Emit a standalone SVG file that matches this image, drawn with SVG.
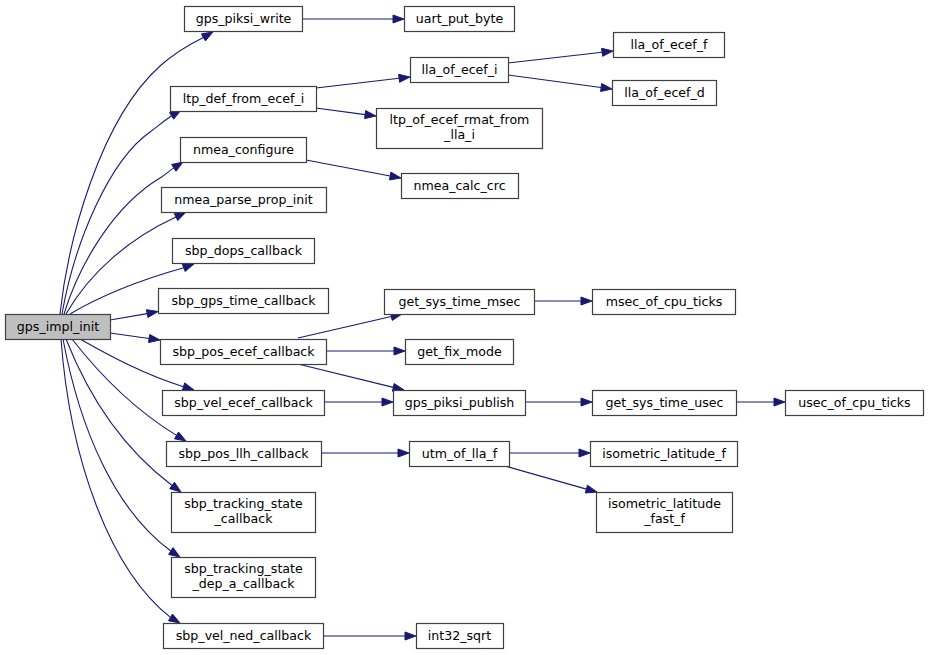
<svg xmlns="http://www.w3.org/2000/svg" width="928" height="655" viewBox="0 0 928 655">
<style>
  .n rect { fill: #ffffff; stroke: #404040; stroke-width: 1.2; }
  .n.root rect { fill: #bfbfbf; }
  .n text { font-family: "DejaVu Sans", "Liberation Sans", sans-serif; font-size: 12.6px; fill: #000000; text-anchor: middle; }
  .e path { fill: none; stroke: #191970; stroke-width: 1.1; }
  .e polygon { fill: #191970; stroke: #191970; stroke-width: 1; }
</style>
<rect x="0" y="0" width="928" height="655" fill="#ffffff"/>

<!-- call edges -->
<g id="edges" class="e">
  <!-- gps_impl_init fan-out -->
  <path d="M60,314 C68,240 100,120 160,66 C172,55 188,45 203.4,37.4"/>
  <polygon points="213,32 205.4,40.9 201.4,33.9"/>
  <path d="M62,314 C75,240 110,160 150,132 C158,126 164,121 171.6,115.8"/>
  <polygon points="181,110 173.7,119.2 169.5,112.4"/>
  <path d="M64,314 C80,262 115,205 160,178 C165,175 169,171 173.8,167.9"/>
  <polygon points="183,162 176,171.3 171.6,164.5"/>
  <path d="M66,314 C90,272 130,238 176,217"/>
  <polygon points="186,212 177.8,220.6 174.2,213.4"/>
  <path d="M70,314 C100,296 140,280 183.7,267.7"/>
  <polygon points="194,264 185.1,271.5 182.3,263.9"/>
  <path d="M110,320 L147.2,313.6"/>
  <polygon points="158,311.5 148,317.5 146.4,309.7"/>
  <path d="M110,333 L149.1,338.5"/>
  <polygon points="160,340 148.5,342.5 149.7,334.5"/>
  <path d="M80,339 C110,356 145,375 183.5,386.7"/>
  <polygon points="194,390 182.3,390.5 184.7,382.9"/>
  <path d="M72,339 C100,375 135,410 176.5,435.4"/>
  <polygon points="186,441 174.5,438.8 178.5,432"/>
  <path d="M66,339 C90,400 125,450 172.1,485.5"/>
  <polygon points="181,492 169.7,488.7 174.5,482.3"/>
  <path d="M63,339 C80,430 115,510 170.8,551"/>
  <polygon points="180,557 168.6,554.4 173,547.6"/>
  <path d="M61,339 C70,460 110,570 170.5,617.4"/>
  <polygon points="180,623 168.5,620.8 172.5,614"/>

  <!-- second level -->
  <path d="M302,19 L393,19"/>
  <polygon points="404,19 393,23 393,15"/>
  <path d="M316,88 L399.1,78.3"/>
  <polygon points="410,77 399.6,82.3 398.6,74.3"/>
  <path d="M316,108 L365.1,114.6"/>
  <polygon points="376,116 364.6,118.6 365.6,110.6"/>
  <path d="M306,160 L390.2,176"/>
  <polygon points="401,178 389.5,179.9 390.9,172.1"/>
  <path d="M298,338 L391.3,316.5"/>
  <polygon points="402,314 392.2,320.4 390.4,312.6"/>
  <path d="M326,351 L394,351"/>
  <polygon points="405,351 394,355 394,347"/>
  <path d="M298,364 L393.3,387.4"/>
  <polygon points="404,390 392.4,391.3 394.2,383.5"/>
  <path d="M324,402 L382,402"/>
  <polygon points="393,402 382,406 382,398"/>
  <path d="M321,453 L398,453"/>
  <polygon points="409,453 398,457 398,449"/>
  <path d="M323,636 L405,636"/>
  <polygon points="416,636 405,640 405,632"/>

  <!-- third level -->
  <path d="M508,63 L602.1,52.3"/>
  <polygon points="613,51 602.6,56.3 601.6,48.3"/>
  <path d="M508,75 L601.1,87.5"/>
  <polygon points="612,89 600.6,91.5 601.6,83.5"/>
  <path d="M534,301 L581,301"/>
  <polygon points="592,301 581,305 581,297"/>
  <path d="M525,402 L581,402"/>
  <polygon points="592,402 581,406 581,398"/>
  <path d="M509,453 L579,453"/>
  <polygon points="590,453 579,457 579,449"/>
  <path d="M505,466 L586.4,489.1"/>
  <polygon points="597,492 585.3,493 587.5,485.2"/>

  <!-- fourth level -->
  <path d="M736,402 L774,402"/>
  <polygon points="785,402 774,406 774,398"/>
</g>

<!-- nodes -->
<g id="gps_impl_init" class="n root"><rect x="5.5" y="314.5" width="105" height="25"/><text x="58" y="331">gps_impl_init</text></g>
<g id="gps_piksi_write" class="n"><rect x="184.5" y="6.5" width="118" height="25"/><text x="243.5" y="23">gps_piksi_write</text></g>
<g id="uart_put_byte" class="n"><rect x="404.5" y="6.5" width="110" height="25"/><text x="459.5" y="23">uart_put_byte</text></g>
<g id="ltp_def_from_ecef_i" class="n"><rect x="170.5" y="86.5" width="146" height="25"/><text x="243.5" y="103">ltp_def_from_ecef_i</text></g>
<g id="lla_of_ecef_i" class="n"><rect x="410.5" y="57.5" width="98" height="25"/><text x="459.5" y="74">lla_of_ecef_i</text></g>
<g id="lla_of_ecef_f" class="n"><rect x="613.5" y="32.5" width="111" height="25"/><text x="669" y="49">lla_of_ecef_f</text></g>
<g id="lla_of_ecef_d" class="n"><rect x="612.5" y="80.5" width="104" height="25"/><text x="664.5" y="97">lla_of_ecef_d</text></g>
<g id="ltp_of_ecef_rmat_from_lla_i" class="n"><rect x="376.5" y="108.5" width="166" height="40"/><text x="459.5" y="124">ltp_of_ecef_rmat_from</text><text x="459.5" y="139">_lla_i</text></g>
<g id="nmea_configure" class="n"><rect x="180.5" y="137.5" width="126" height="25"/><text x="243.5" y="154">nmea_configure</text></g>
<g id="nmea_calc_crc" class="n"><rect x="401.5" y="173.5" width="117" height="25"/><text x="459.5" y="190">nmea_calc_crc</text></g>
<g id="nmea_parse_prop_init" class="n"><rect x="161.5" y="187.5" width="165" height="25"/><text x="243.5" y="204">nmea_parse_prop_init</text></g>
<g id="sbp_dops_callback" class="n"><rect x="172.5" y="238.5" width="142" height="25"/><text x="243.5" y="255">sbp_dops_callback</text></g>
<g id="sbp_gps_time_callback" class="n"><rect x="158.5" y="288.5" width="170" height="25"/><text x="243.5" y="305">sbp_gps_time_callback</text></g>
<g id="sbp_pos_ecef_callback" class="n"><rect x="160.5" y="339.5" width="166" height="25"/><text x="243.5" y="356">sbp_pos_ecef_callback</text></g>
<g id="sbp_vel_ecef_callback" class="n"><rect x="162.5" y="390.5" width="162" height="25"/><text x="243.5" y="407">sbp_vel_ecef_callback</text></g>
<g id="sbp_pos_llh_callback" class="n"><rect x="166.5" y="441.5" width="155" height="25"/><text x="243.5" y="458">sbp_pos_llh_callback</text></g>
<g id="sbp_tracking_state_callback" class="n"><rect x="171.5" y="492.5" width="144" height="40"/><text x="243.5" y="508">sbp_tracking_state</text><text x="243.5" y="523">_callback</text></g>
<g id="sbp_tracking_state_dep_a_callback" class="n"><rect x="171.5" y="557.5" width="144" height="40"/><text x="243.5" y="573">sbp_tracking_state</text><text x="243.5" y="588">_dep_a_callback</text></g>
<g id="sbp_vel_ned_callback" class="n"><rect x="163.5" y="623.5" width="160" height="25"/><text x="243.5" y="640">sbp_vel_ned_callback</text></g>
<g id="get_sys_time_msec" class="n"><rect x="384.5" y="289.5" width="150" height="25"/><text x="459.5" y="306">get_sys_time_msec</text></g>
<g id="msec_of_cpu_ticks" class="n"><rect x="592.5" y="289.5" width="143" height="25"/><text x="664" y="306">msec_of_cpu_ticks</text></g>
<g id="get_fix_mode" class="n"><rect x="405.5" y="339.5" width="108" height="25"/><text x="459.5" y="356">get_fix_mode</text></g>
<g id="gps_piksi_publish" class="n"><rect x="393.5" y="390.5" width="132" height="25"/><text x="459.5" y="407">gps_piksi_publish</text></g>
<g id="get_sys_time_usec" class="n"><rect x="592.5" y="390.5" width="144" height="25"/><text x="664.5" y="407">get_sys_time_usec</text></g>
<g id="usec_of_cpu_ticks" class="n"><rect x="785.5" y="390.5" width="138" height="25"/><text x="854.5" y="407">usec_of_cpu_ticks</text></g>
<g id="utm_of_lla_f" class="n"><rect x="409.5" y="441.5" width="100" height="25"/><text x="459.5" y="458">utm_of_lla_f</text></g>
<g id="isometric_latitude_f" class="n"><rect x="590.5" y="441.5" width="147" height="25"/><text x="664" y="458">isometric_latitude_f</text></g>
<g id="isometric_latitude_fast_f" class="n"><rect x="596.5" y="492.5" width="136" height="40"/><text x="664.5" y="508">isometric_latitude</text><text x="664.5" y="523">_fast_f</text></g>
<g id="int32_sqrt" class="n"><rect x="416.5" y="623.5" width="87" height="25"/><text x="459.5" y="640">int32_sqrt</text></g>
</svg>
